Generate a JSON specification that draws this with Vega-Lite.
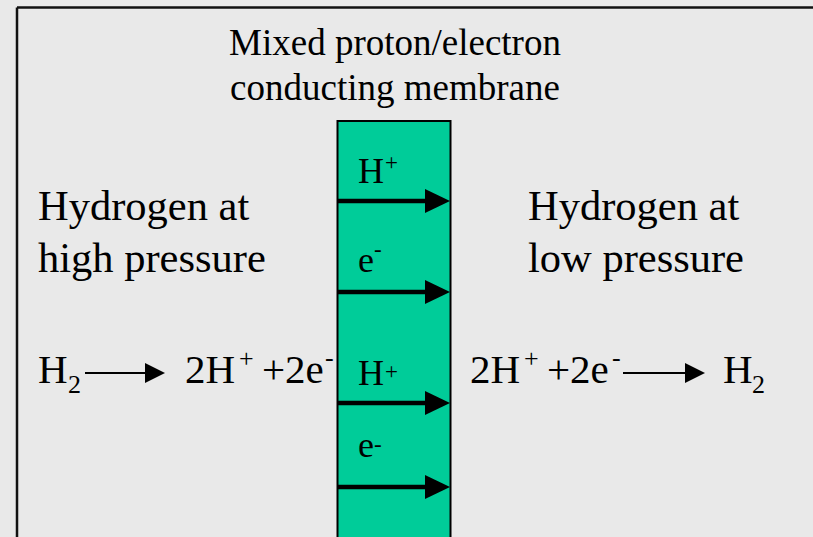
{
  "$schema": "https://vega.github.io/schema/vega-lite/v6.json",
  "width": 813,
  "height": 537,
  "padding": 0,
  "autosize": {"type": "none"},
  "background": "#e9e9e9",
  "config": {"view": {"stroke": null}},
  "datasets": {
    "frame": [
      {"x": 17, "y": 7.5, "x2": 815, "y2": 7.5},
      {"x": 17, "y": 7.5, "x2": 17, "y2": 540}
    ],
    "membrane": [
      {"x": 337.5, "x2": 450.5, "y": 121, "y2": 545}
    ],
    "membraneShafts": [
      {"x": 337.5, "x2": 430, "y": 201},
      {"x": 337.5, "x2": 430, "y": 292},
      {"x": 337.5, "x2": 430, "y": 403},
      {"x": 337.5, "x2": 430, "y": 487}
    ],
    "membraneHeads": [
      {"x": 437.5, "y": 201},
      {"x": 437.5, "y": 292},
      {"x": 437.5, "y": 403},
      {"x": 437.5, "y": 487}
    ],
    "reactionShafts": [
      {"x": 85, "x2": 150, "y": 373},
      {"x": 623, "x2": 690, "y": 373}
    ],
    "reactionHeads": [
      {"x": 155, "y": 373},
      {"x": 695, "y": 373}
    ],
    "title": [
      {"text": "Mixed proton/electron", "x": 395, "y": 55},
      {"text": "conducting membrane", "x": 395, "y": 100}
    ],
    "labels": [
      {"text": "Hydrogen at", "x": 38, "y": 220},
      {"text": "high pressure", "x": 38, "y": 272},
      {"text": "Hydrogen at", "x": 528, "y": 220},
      {"text": "low pressure", "x": 528, "y": 272}
    ],
    "big": [
      {"text": "H", "x": 38, "y": 383},
      {"text": "2H", "x": 185, "y": 383},
      {"text": "+2e", "x": 262, "y": 383},
      {"text": "2H", "x": 470, "y": 383},
      {"text": "+2e", "x": 547, "y": 383},
      {"text": "H", "x": 723, "y": 383}
    ],
    "small": [
      {"text": "2", "x": 68, "y": 393},
      {"text": "2", "x": 752, "y": 393},
      {"text": "+", "x": 239, "y": 367},
      {"text": "-", "x": 325, "y": 366},
      {"text": "+", "x": 524, "y": 367},
      {"text": "-", "x": 612, "y": 366}
    ],
    "membraneLabels": [
      {"text": "H", "x": 358, "y": 183},
      {"text": "e", "x": 358, "y": 272},
      {"text": "H", "x": 358, "y": 385},
      {"text": "e", "x": 358, "y": 457}
    ],
    "membraneSups": [
      {"text": "+", "x": 385, "y": 170},
      {"text": "-", "x": 374, "y": 257},
      {"text": "+", "x": 385, "y": 379},
      {"text": "-", "x": 374, "y": 452}
    ]
  },
  "encoding": {
    "x": {"field": "x", "type": "quantitative", "scale": {"domain": [0, 813], "nice": false, "zero": false}, "axis": null},
    "y": {"field": "y", "type": "quantitative", "scale": {"domain": [0, 537], "nice": false, "zero": false, "reverse": true}, "axis": null}
  },
  "layer": [
    {
      "data": {"name": "frame"},
      "mark": {"type": "rule", "stroke": "#111111", "strokeWidth": 2.5, "clip": true},
      "encoding": {
        "x2": {"field": "x2"},
        "y2": {"field": "y2"}
      }
    },
    {
      "data": {"name": "membrane"},
      "mark": {"type": "rect", "fill": "#00cc99", "stroke": "#000000", "strokeWidth": 2, "clip": true},
      "encoding": {
        "x2": {"field": "x2"},
        "y2": {"field": "y2"}
      }
    },
    {
      "data": {"name": "membraneShafts"},
      "mark": {"type": "rule", "stroke": "#000000", "strokeWidth": 4.5},
      "encoding": {
        "x2": {"field": "x2"}
      }
    },
    {
      "data": {"name": "membraneHeads"},
      "mark": {"type": "point", "shape": "M-1,-0.96L1,0L-1,0.96Z", "size": 625, "filled": true, "fill": "#000000", "stroke": null, "opacity": 1}
    },
    {
      "data": {"name": "reactionShafts"},
      "mark": {"type": "rule", "stroke": "#000000", "strokeWidth": 2},
      "encoding": {
        "x2": {"field": "x2"}
      }
    },
    {
      "data": {"name": "reactionHeads"},
      "mark": {"type": "point", "shape": "M-1,-1L1,0L-1,1Z", "size": 400, "filled": true, "fill": "#000000", "stroke": null, "opacity": 1}
    },
    {
      "data": {"name": "title"},
      "mark": {"type": "text", "font": "Liberation Serif", "fontSize": 37, "align": "center", "baseline": "alphabetic", "color": "#000000"},
      "encoding": {"text": {"field": "text"}}
    },
    {
      "data": {"name": "labels"},
      "mark": {"type": "text", "font": "Liberation Serif", "fontSize": 42.5, "align": "left", "baseline": "alphabetic", "color": "#000000"},
      "encoding": {"text": {"field": "text"}}
    },
    {
      "data": {"name": "big"},
      "mark": {"type": "text", "font": "Liberation Serif", "fontSize": 41, "align": "left", "baseline": "alphabetic", "color": "#000000"},
      "encoding": {"text": {"field": "text"}}
    },
    {
      "data": {"name": "small"},
      "mark": {"type": "text", "font": "Liberation Serif", "fontSize": 26, "align": "left", "baseline": "alphabetic", "color": "#000000"},
      "encoding": {"text": {"field": "text"}}
    },
    {
      "data": {"name": "membraneLabels"},
      "mark": {"type": "text", "font": "Liberation Serif", "fontSize": 36, "align": "left", "baseline": "alphabetic", "color": "#000000"},
      "encoding": {"text": {"field": "text"}}
    },
    {
      "data": {"name": "membraneSups"},
      "mark": {"type": "text", "font": "Liberation Serif", "fontSize": 23, "align": "left", "baseline": "alphabetic", "color": "#000000"},
      "encoding": {"text": {"field": "text"}}
    }
  ]
}
